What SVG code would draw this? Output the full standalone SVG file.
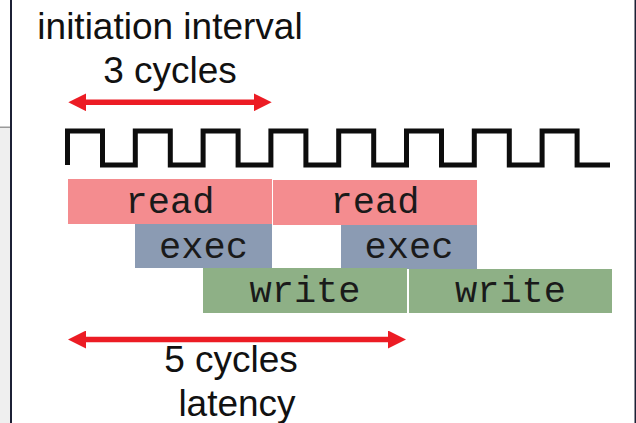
<svg xmlns="http://www.w3.org/2000/svg" width="636" height="423" viewBox="0 0 636 423">
  <style>
    .label { font-family: "Liberation Sans", Arial, sans-serif; font-size: 37px; fill: #111; text-anchor: middle; }
    .stage { font-family: "Liberation Mono", "Courier New", monospace; font-size: 37px; fill: #1a1a1a; text-anchor: middle; }
    .read { fill: #f48c8f; }
    .exec { fill: #8b9bb3; }
    .write { fill: #8eb086; }
    .span { stroke: #ec1c24; stroke-width: 5.5; fill: none; marker-start: url(#head); marker-end: url(#head); }
    .clock { fill: none; stroke: #0d0d0d; stroke-width: 5; stroke-linejoin: miter; }
  </style>
  <defs>
    <marker id="head" markerUnits="userSpaceOnUse" markerWidth="18" markerHeight="18" viewBox="0 0 18 18" refX="8" refY="9" orient="auto-start-reverse">
      <path d="M0,0 L18,9 L0,18 z" fill="#ec1c24"/>
    </marker>
  </defs>

  <!-- background and frame edges -->
  <rect x="0" y="0" width="636" height="423" fill="#ffffff"/>
  <rect x="0" y="128" width="10" height="295" fill="#efefef"/>
  <rect x="0" y="126.5" width="10" height="1.5" fill="#9a9a9a"/>
  <rect x="10" y="0" width="2" height="423" fill="#1c2035"/>
  <rect x="634.5" y="0" width="1.5" height="423" fill="#1c2035"/>

  <!-- labels -->
  <g id="ii-label">
    <text class="label" x="170" y="39">initiation interval</text>
    <text class="label" x="170" y="83">3 cycles</text>
  </g>
  <g id="latency-label">
    <text class="label" x="231" y="372">5 cycles</text>
    <text class="label" x="237" y="416">latency</text>
  </g>

  <!-- clock waveform -->
  <g id="clock">
    <path class="clock" d="M67.5,165 V131 H102.5 V165 H135.3 V131 H170.3 V165 H203.1 V131 H238.1 V165 H270.9 V131 H305.9 V165 H338.7 V131 H373.7 V165 H406.5 V131 H441.5 V165 H474.3 V131 H509.3 V165 H542.1 V131 H577.1 V165 H610"/>
  </g>

  <!-- pipeline stages -->
  <g id="read-1"><rect class="read" x="68" y="179" width="204" height="45"/><text class="stage" x="170" y="213">read</text></g>
  <g id="read-2"><rect class="read" x="273" y="180" width="204" height="45"/><text class="stage" x="375" y="213">read</text></g>
  <g id="exec-1"><rect class="exec" x="135" y="224" width="137" height="44"/><text class="stage" x="203.5" y="258">exec</text></g>
  <g id="exec-2"><rect class="exec" x="341" y="225" width="136" height="44"/><text class="stage" x="409" y="258">exec</text></g>
  <g id="write-1"><rect class="write" x="203" y="268" width="204" height="45"/><text class="stage" x="305" y="302">write</text></g>
  <g id="write-2"><rect class="write" x="409" y="269" width="203" height="44"/><text class="stage" x="510.5" y="302">write</text></g>

  <!-- span arrows -->
  <g id="connectors">
    <line class="span" x1="78.3" y1="102.3" x2="261.7" y2="102.3"/>
    <line class="span" x1="78" y1="339.5" x2="396" y2="339.5"/>
  </g>
</svg>
